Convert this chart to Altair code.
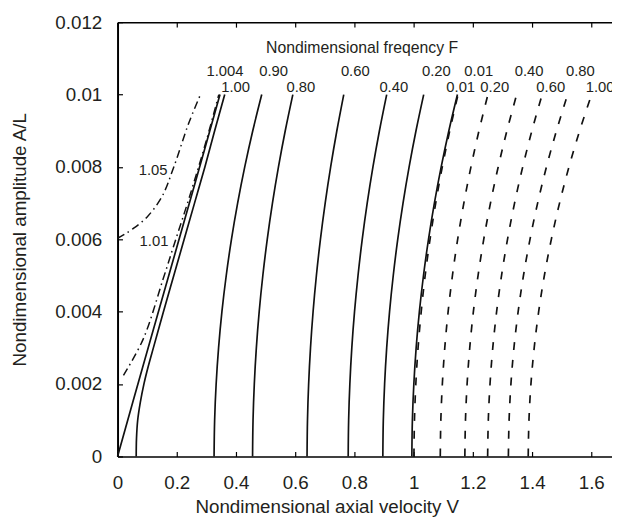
import altair as alt
import pandas as pd

FONT = "Liberation Sans"
TXT = "#231f20"
LINE = "#111111"

X_MAX = 1.67
X_TICKS = [0, 0.2, 0.4, 0.6, 0.8, 1.0, 1.2, 1.4, 1.6]
Y_TICKS = [0, 0.002, 0.004, 0.006, 0.008, 0.01, 0.012]

# ---- solid curves (nondimensional frequency F) ----
line_a_A = [0, 0.0025, 0.005, 0.0075, 0.01]
line_a_V = [0, 0.086, 0.173, 0.26, 0.346]

line_b_A = [0, 0.0005, 0.001, 0.0015, 0.002, 0.0025, 0.003, 0.004, 0.005, 0.006, 0.007, 0.008, 0.009, 0.01]
line_b_V = [0.063, 0.064, 0.068, 0.077, 0.089, 0.104, 0.121, 0.155, 0.19, 0.225, 0.26, 0.295, 0.328, 0.362]

curve_A = [0, 0.001, 0.002, 0.003, 0.004, 0.005, 0.006, 0.007, 0.008, 0.009, 0.01]
solid_090 = [0.326, 0.3279, 0.3330, 0.3412, 0.3525, 0.3671, 0.3847, 0.4056, 0.4296, 0.4567, 0.487]
solid_080 = [0.456, 0.4576, 0.4619, 0.4688, 0.4784, 0.4907, 0.5056, 0.5232, 0.5435, 0.5664, 0.592]
solid_060 = [0.640, 0.6415, 0.6454, 0.6517, 0.6604, 0.6716, 0.6852, 0.7013, 0.7198, 0.7407, 0.764]
solid_040 = [0.779, 0.7805, 0.7846, 0.7912, 0.8004, 0.8122, 0.8264, 0.8432, 0.8626, 0.8845, 0.909]
solid_020 = [0.896, 0.8976, 0.9020, 0.9090, 0.9187, 0.9312, 0.9463, 0.9642, 0.9848, 1.008, 1.034]
solid_001 = [0.994, 0.9958, 1.0007, 1.0085, 1.0194, 1.0333, 1.0502, 1.0701, 1.0931, 1.119, 1.148]

# ---- dashed curves ----
dash_001 = [1.001, 1.0028, 1.0074, 1.0150, 1.0256, 1.0390, 1.0554, 1.0746, 1.0968, 1.122, 1.150]
dash_020 = [1.090, 1.0919, 1.0970, 1.1052, 1.1165, 1.1311, 1.1487, 1.1696, 1.1936, 1.2207, 1.251]
dash_040 = [1.173, 1.1751, 1.1806, 1.1895, 1.2018, 1.2176, 1.2368, 1.2595, 1.2856, 1.3151, 1.348]
dash_060 = [1.250, 1.2522, 1.2580, 1.2673, 1.2803, 1.2969, 1.3171, 1.3409, 1.3684, 1.3994, 1.434]
dash_080 = [1.320, 1.3224, 1.3286, 1.3388, 1.3530, 1.3710, 1.3930, 1.4188, 1.4486, 1.4824, 1.520]
dash_100 = [1.387, 1.3895, 1.3962, 1.4072, 1.4223, 1.4416, 1.4651, 1.4928, 1.5246, 1.5607, 1.601]

# ---- dash-dot curves ----
dd_101_A = [0.00224, 0.00325, 0.00488, 0.00588, 0.00715, 0.00879, 0.01]
dd_101_V = [0.02, 0.087, 0.153, 0.192, 0.242, 0.302, 0.342]
dd_105_A = [0.00603, 0.00612, 0.00628, 0.00662, 0.00718, 0.0080, 0.0092, 0.01]
dd_105_V = [0, 0.02, 0.05, 0.1, 0.15, 0.19, 0.24, 0.28]

# ---- curve labels ----
lab_text = ["1.004", "1.00", "0.90", "0.80", "0.60", "0.40", "0.20", "0.01",
            "0.01", "0.20", "0.40", "0.60", "0.80", "1.00", "1.05", "1.01"]
lab_V = [0.363, 0.399, 0.527, 0.619, 0.803, 0.933, 1.077, 1.159,
         1.22, 1.274, 1.39, 1.463, 1.563, 1.63, 0.12, 0.123]
lab_A = [0.01065, 0.01022, 0.01065, 0.01022, 0.01065, 0.01022, 0.01065, 0.01022,
         0.01065, 0.01022, 0.01065, 0.01022, 0.01065, 0.01022, 0.00791, 0.00596]

head_text = ["Nondimensional freqency F"]
head_V = [0.826]
head_A = [0.01129]


def rows(name, style, V, A):
    return [{"curve": name, "style": style, "V": v, "A": a} for v, a in zip(V, A)]


recs = []
recs += rows("s1004", "solid", line_a_V, line_a_A)
recs += rows("s100", "solid", line_b_V, line_b_A)
for nm, vals in [("s090", solid_090), ("s080", solid_080), ("s060", solid_060),
                 ("s040", solid_040), ("s020", solid_020), ("s001", solid_001)]:
    recs += rows(nm, "solid", vals, curve_A)
for nm, vals in [("d001", dash_001), ("d020", dash_020), ("d040", dash_040),
                 ("d060", dash_060), ("d080", dash_080), ("d100", dash_100)]:
    recs += rows(nm, "dash", vals, curve_A)
recs += rows("dd101", "dashdot", dd_101_V, dd_101_A)
recs += rows("dd105", "dashdot", dd_105_V, dd_105_A)
df = pd.DataFrame(recs)

labels = pd.DataFrame({"t": lab_text, "V": lab_V, "A": lab_A})
head = pd.DataFrame({"t": head_text, "V": head_V, "A": head_A})

xs = alt.Scale(domain=[0, X_MAX], nice=False, zero=False)
ys = alt.Scale(domain=[0, 0.012], nice=False, zero=False)

ax_x_main = alt.Axis(orient="bottom", values=X_TICKS, format="~g", ticks=False, grid=False,
                     domain=True, domainColor="black", domainWidth=1.5,
                     labelFont=FONT, labelFontSize=19, labelColor=TXT, labelPadding=17,
                     labelFlush=False, labelOverlap=False,
                     title="Nondimensional axial velocity V", titleFont=FONT, titleFontSize=19,
                     titleFontWeight="normal", titleColor=TXT, titlePadding=6,
                     titleX=212, titleAlign="center")
ax_y_main = alt.Axis(orient="left", values=Y_TICKS, format="~g", ticks=False, grid=False,
                     domain=True, domainColor="black", domainWidth=2,
                     labelFont=FONT, labelFontSize=19, labelColor=TXT, labelPadding=16,
                     labelFlush=False, labelOverlap=False,
                     title="Nondimensional amplitude A/L", titleFont=FONT, titleFontSize=19,
                     titleFontWeight="normal", titleColor=TXT, titlePadding=26)
ax_x_ticks = alt.Axis(orient="bottom", offset=-5, values=X_TICKS, labels=False, domain=False,
                      ticks=True, tickSize=5, tickColor="black", tickWidth=1.2, grid=False, title=None)
ax_y_ticks = alt.Axis(orient="left", offset=-5, values=Y_TICKS, labels=False, domain=False,
                      ticks=True, tickSize=5, tickColor="black", tickWidth=1.2, grid=False, title=None)
ax_top_dom = alt.Axis(orient="top", labels=False, ticks=False, domain=True, domainColor="black",
                      domainWidth=1.5, grid=False, title=None)
ax_top_ticks = alt.Axis(orient="top", offset=-5, values=X_TICKS, labels=False, domain=False,
                        ticks=True, tickSize=5, tickColor="black", tickWidth=1.2, grid=False, title=None)

solid = alt.Chart(df).transform_filter(alt.datum.style == "solid").mark_line(
    color=LINE, strokeWidth=1.7, interpolate="catmull-rom"
).encode(
    x=alt.X("V:Q", scale=xs, axis=ax_x_main),
    y=alt.Y("A:Q", scale=ys, axis=ax_y_main),
    detail="curve:N",
    order="A:Q",
)

dashed = alt.Chart(df).transform_filter(alt.datum.style == "dash").mark_line(
    color=LINE, strokeWidth=1.7, strokeDash=[8, 10], interpolate="catmull-rom"
).encode(
    x=alt.X("V:Q", scale=xs, axis=ax_x_ticks),
    y=alt.Y("A:Q", scale=ys, axis=ax_y_ticks),
    detail="curve:N",
    order="A:Q",
)

dashdot = alt.Chart(df).transform_filter(alt.datum.style == "dashdot").mark_line(
    color=LINE, strokeWidth=1.5, strokeDash=[8, 4, 1.5, 4], interpolate="catmull-rom"
).encode(
    x=alt.X("V:Q", scale=xs, axis=ax_top_dom),
    y=alt.Y("A:Q", scale=ys, axis=None),
    detail="curve:N",
    order="A:Q",
)

curve_labels = alt.Chart(labels).mark_text(
    font=FONT, fontSize=15, color=TXT, align="center", baseline="middle"
).encode(
    x=alt.X("V:Q", scale=xs, axis=ax_top_ticks),
    y=alt.Y("A:Q", scale=ys, axis=None),
    text="t:N",
)

header = alt.Chart(head).mark_text(
    font=FONT, fontSize=16, color=TXT, align="center", baseline="middle"
).encode(
    x=alt.X("V:Q", scale=xs, axis=None),
    y=alt.Y("A:Q", scale=ys, axis=None),
    text="t:N",
)

chart = alt.layer(solid, dashed, dashdot, curve_labels, header).resolve_axis(
    x="independent", y="independent"
).properties(
    width=501, height=440,
    padding={"left": 111, "top": 11, "right": 0, "bottom": 60},
    autosize=alt.AutoSizeParams(type="none"),
    background="white",
).configure_view(stroke=None)

chart.save("out.html", embed_options={"renderer": "svg", "actions": False})
